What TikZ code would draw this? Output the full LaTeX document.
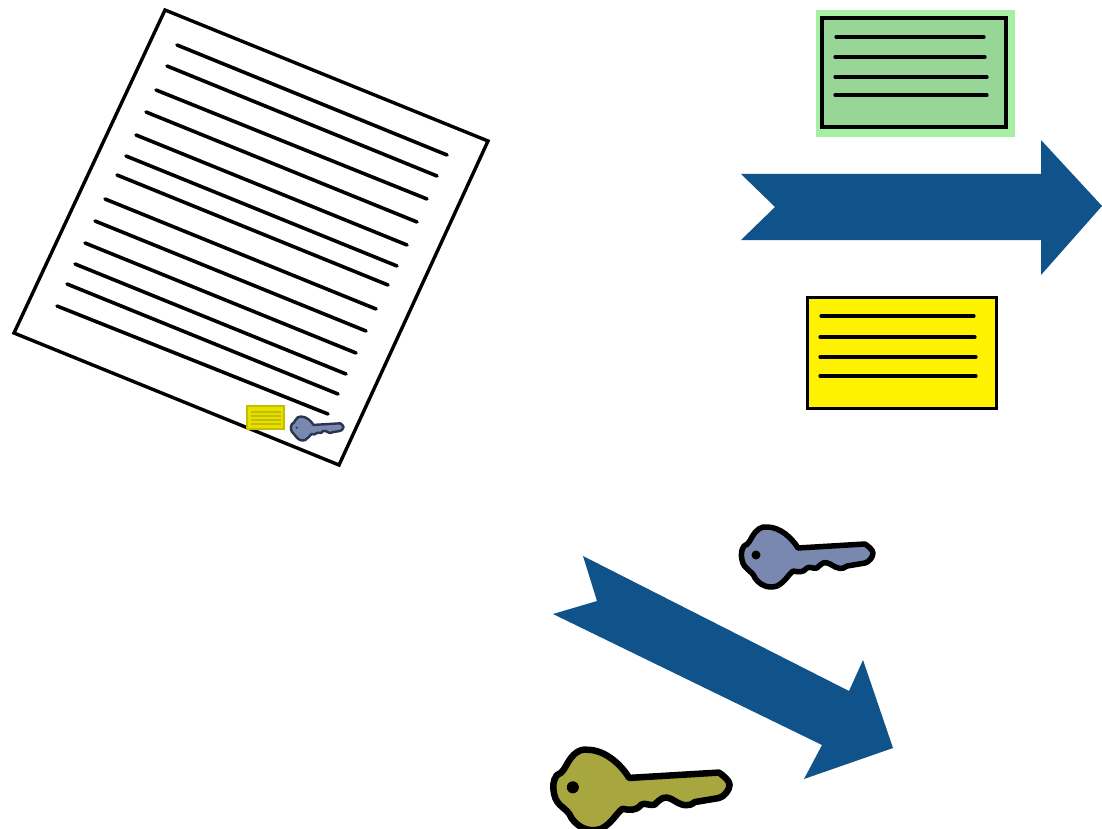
\documentclass[tikz,border=0pt]{standalone}
\definecolor{arrowblue}{HTML}{10538A}
\definecolor{keyblue}{HTML}{7888AE}
\definecolor{keyolive}{HTML}{A8A63E}
\definecolor{cardgreen}{HTML}{98D698}
\definecolor{haloGreen}{HTML}{A6F0A6}
\definecolor{smallyellow}{HTML}{E6E000}
\definecolor{smallline}{HTML}{C4BE00}
\definecolor{smallkeyline}{HTML}{2A3350}
\newcommand{\keypath}{
  (14,36) .. controls (19,34) and (20,30) .. (22,27)
  .. controls (26,20) and (31,16) .. (37,17)
  .. controls (50,17) and (62,28) .. (68,38)
  -- (135,34) .. controls (138,36) and (143,40) .. (143,43)
  .. controls (143,47) and (139,52) .. (135,53)
  -- (117,56) .. controls (112,60) and (108,59) .. (100,54)
  .. controls (94,51) and (92,53) .. (87,58)
  .. controls (82,59) and (80,56) .. (77,58)
  .. controls (73,63) and (68,62) .. (63,61)
  .. controls (58,65) and (55,72) .. (47,76)
  .. controls (38,79) and (30,75) .. (25,68)
  .. controls (22,60) and (14,60) .. (12,50)
  .. controls (11,45) and (11,40) .. (14,36) -- cycle}
\tikzset{
  paper/.style={draw=black,fill=white,line width=3.4pt,line join=miter},
  textline/.style={draw=black,line width=3.6pt,line cap=round},
  cardline/.style={draw=black,line width=3.2pt,line cap=round},
  bigarrow/.style={fill=arrowblue,draw=none},
  card/.style={draw=black,line width=3pt},
}
\begin{document}
\begin{tikzpicture}[x=1pt,y=-1pt]
\useasboundingbox (0,0) rectangle (1102,829);
% document
\draw[paper] (165,10) -- (488,141) -- (339,465) -- (14,333) -- cycle;
\foreach \xa/\ya/\xb/\yb in {177/45/447/155,167/66/437/176,156/90/427/199,146/112/417/222,136/135/407/245,126/156/397/266,117/175/388/285,105/199/376/309,95/221/366/331,85/243/356/353,75/264/346/374,67/284/338/394,57/306/328/414}
  \draw[textline] (\xa,\ya) -- (\xb,\yb);
% small card
\draw[fill=smallyellow,draw=smallline,line width=1.2pt] (247,406) rectangle (284,429);
\foreach \y in {412,416,420,424} \draw[draw=smallline,line width=1.3pt] (251,\y) -- (281,\y);
% small key
\begin{scope}[shift={(286.3,409.7)},scale=.4]
  \draw[fill=keyblue,draw=smallkeyline,line width=2.4pt,line join=round] \keypath;
  \fill[smallkeyline] (26,45) circle (3);
\end{scope}
% green card
\fill[haloGreen] (816,10) rectangle (1015,137);
\draw[card,fill=cardgreen,line width=3.6pt] (822,18) rectangle (1006,127);
\foreach \xa/\xb/\y in {836/984/37,835/985/57,835/987/77,835/987/95} \draw[cardline] (\xa,\y) -- (\xb,\y);
% top arrow
\fill[bigarrow] (741,174) -- (1041,174) -- (1041,140) -- (1102,206) -- (1041,275) -- (1041,240) -- (741,240) -- (775,207) -- cycle;
% yellow card
\draw[card,fill=yellow] (807,297) rectangle (996,408);
\foreach \xa/\xb/\y in {821/974/316,820/975/337,820/976/357,820/976/376} \draw[cardline] (\xa,\y) -- (\xb,\y);
% blue key
\begin{scope}[shift={(730,510)}]
  \draw[fill=keyblue,draw=black,line width=5.5pt,line join=round] \keypath;
  \fill[black] (26,45) circle (4.5);
\end{scope}
% lower arrow
\fill[bigarrow] (583,556) -- (849,691) -- (863,660) -- (893,748) -- (804,779) -- (822,745) -- (553,614) -- (597,601) -- cycle;
% olive key
\begin{scope}[shift={(538,727)},scale=1.34]
  \draw[fill=keyolive,draw=black,line width=6.5pt,line join=round] \keypath;
  \fill[black] (26,45) circle (4.5);
\end{scope}
\end{tikzpicture}
\end{document}
